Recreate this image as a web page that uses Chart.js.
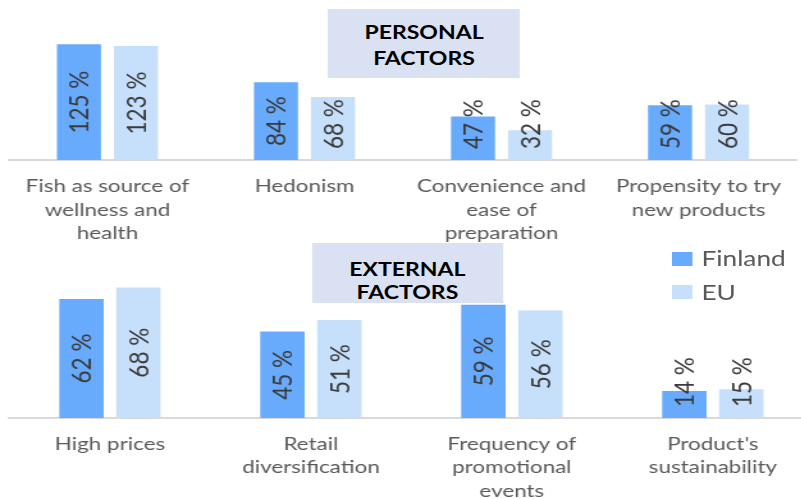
<!DOCTYPE html>
<html><head><meta charset="utf-8">
<script src="https://cdn.jsdelivr.net/npm/chart.js@4.4.0/dist/chart.umd.min.js"></script>
<style>
html,body{margin:0;padding:0;background:#fff;width:801px;height:499px;overflow:hidden;}
#wrap{position:absolute;left:0;top:0;width:626px;height:499px;transform:scaleX(1.28);transform-origin:0 0;overflow:hidden;font-family:Lato,sans-serif;}
.pane{position:absolute;left:0;}
.box{position:absolute;background:#D9E1F2;color:#000;font-weight:bold;font-size:18px;text-align:center;box-sizing:border-box;}
.sw{position:absolute;width:15.6px;height:14px;}
.lt{position:absolute;font-size:20.5px;line-height:24px;color:#595959;white-space:nowrap;}
</style></head><body>
<div id="wrap">
  <div class="pane" style="top:0;width:626px;height:250px"><canvas id="c1" width="626" height="250"></canvas></div>
  <div class="pane" style="top:250px;width:636px;height:249px"><canvas id="c2" width="636" height="249"></canvas></div>
  <div class="box" style="left:256.3px;top:9px;width:150px;height:69px;padding-top:10px;line-height:26px;">PERSONAL<br>FACTORS</div>
  <div class="box" style="left:243.8px;top:243px;width:149px;height:60px;padding-top:14.5px;line-height:23px;">EXTERNAL<br>FACTORS</div>
  <div class="sw" id="sw1" style="left:525px;top:252px;"></div>
  <div class="lt" id="lt1" style="left:548px;top:246px;"></div>
  <div class="sw" id="sw2" style="left:525px;top:285px;"></div>
  <div class="lt" id="lt2" style="left:548px;top:279.5px;"></div>
</div>
<script>
const seriesNames = ["Finland", "EU"];
const seriesColors = ["#68AAFC", "#C6DFFB"];

const personalCategories = [["Fish as source of", "wellness and", "health"], ["Hedonism"], ["Convenience and", "ease of", "preparation"], ["Propensity to try", "new products"]];
const personalFinland = [125, 84, 47, 59];
const personalEU = [123, 68, 32, 60];

const externalCategories = [["High prices"], ["Retail", "diversification"], ["Frequency of", "promotional", "events"], ["Product's", "sustainability"]];
const externalFinland = [62, 45, 59, 14];
const externalEU = [68, 51, 56, 15];

const S = 1.28;

document.getElementById('sw1').style.background = seriesColors[0];
document.getElementById('sw2').style.background = seriesColors[1];
document.getElementById('lt1').textContent = seriesNames[0];
document.getElementById('lt2').textContent = seriesNames[1];

const valueLabels = {
  id: 'valueLabels',
  afterDatasetsDraw(chart) {
    const ctx = chart.ctx;
    const base = chart.scales.y.getPixelForValue(0);
    ctx.save();
    ctx.font = '22.5px Lato';
    ctx.fillStyle = '#3a3a3a';
    ctx.textAlign = 'center';
    ctx.textBaseline = 'alphabetic';
    chart.data.datasets.forEach((ds, i) => {
      chart.getDatasetMeta(i).data.forEach((bar, j) => {
        const txt = ds.data[j] + ' %';
        const m = ctx.measureText(txt);
        const w = m.width;
        const mid = (bar.y + base) / 2;
        const cy = Math.min(mid, base - 11 - w / 2);
        ctx.save();
        ctx.translate(bar.x, cy);
        ctx.scale(1.15 / S, 1);
        ctx.rotate(-Math.PI / 2);
        ctx.fillText(txt, 0, (m.actualBoundingBoxAscent - m.actualBoundingBoxDescent) / 2);
        ctx.restore();
      });
    });
    ctx.restore();
  }
};

function makeChart(id, cats, fin, eu, cfg) {
  return new Chart(document.getElementById(id), {
    type: 'bar',
    data: {
      labels: cats,
      datasets: [
        { label: seriesNames[0], data: fin, backgroundColor: seriesColors[0], categoryPercentage: cfg.cp, barPercentage: cfg.bp },
        { label: seriesNames[1], data: eu, backgroundColor: seriesColors[1], categoryPercentage: cfg.cp, barPercentage: cfg.bp }
      ]
    },
    options: {
      responsive: false,
      animation: false,
      events: [],
      layout: { padding: { top: cfg.padTop, left: cfg.padLeft, right: cfg.padRight, bottom: 0 } },
      plugins: { legend: { display: false }, tooltip: { enabled: false } },
      scales: {
        x: {
          grid: { display: false },
          border: { display: true, color: '#D9D9D9', width: 2 },
          ticks: { color: '#595959', font: { family: 'Lato', size: 17.5, lineHeight: 1.343 }, padding: cfg.tickPad, maxRotation: 0, autoSkip: false },
          afterFit(s) { s.height = cfg.axisH; }
        },
        y: { display: false, min: 0, max: cfg.ymax }
      }
    },
    plugins: [valueLabels]
  });
}

makeChart('c1', personalCategories, personalFinland, personalEU,
  { ymax: 150, padTop: 21, padLeft: 7, padRight: 3.3, axisH: 90, cp: 0.579, bp: 0.772, tickPad: 7 });
makeChart('c2', externalCategories, externalFinland, externalEU,
  { ymax: 80, padTop: 14.4, padLeft: 7.4, padRight: 0.6, axisH: 81, cp: 0.567, bp: 0.78, tickPad: 6.5 });
</script>
</body></html>
